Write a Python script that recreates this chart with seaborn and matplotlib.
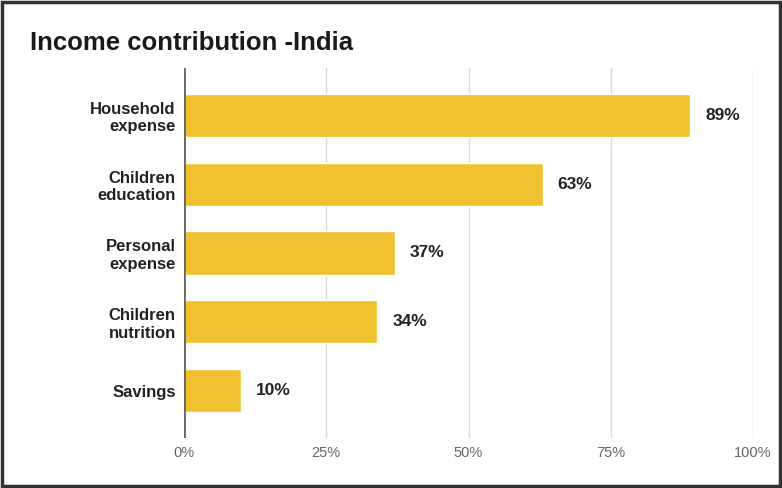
import pandas as pd
import seaborn as sns
import matplotlib.pyplot as plt
from matplotlib.ticker import PercentFormatter
from matplotlib.patches import Rectangle

categories = ["Household\nexpense", "Children\neducation", "Personal\nexpense",
              "Children\nnutrition", "Savings"]
values = [89, 63, 37, 34, 10]
value_labels = ["89%", "63%", "37%", "34%", "10%"]
x_ticks = [0, 25, 50, 75, 100]

df = pd.DataFrame({"category": categories, "share": values})

sns.set_theme(style="white")
plt.rcParams['font.family'] = ['Liberation Sans', 'DejaVu Sans']

fig = plt.figure(figsize=(7.82, 4.88), dpi=100)
ax = fig.add_axes([0.2353, 0.1025, 0.7277, 0.7582])

sns.barplot(data=df, x="share", y="category", color="#EFC12F", saturation=1,
            width=0.63, ax=ax, zorder=3)

ax.set_xlim(0, 100)
ax.set_ylim(4.69, -0.69)
ax.set_xticks(x_ticks)
ax.xaxis.set_major_formatter(PercentFormatter(decimals=0))
ax.grid(axis="x", color="#d9d9d9", linewidth=1, zorder=0)
ax.axvline(0, color="#666666", linewidth=2, zorder=4)

for s in ax.spines.values():
    s.set_visible(False)
ax.tick_params(axis="both", length=0)
ax.tick_params(axis="x", labelsize=10.5, labelcolor="#666666", pad=6)
ax.tick_params(axis="y", pad=6)
for lbl in ax.get_yticklabels():
    lbl.set_fontweight("bold")
    lbl.set_fontsize(12)
    lbl.set_color("#222222")
    lbl.set_horizontalalignment("right")
    lbl.set_multialignment("right")

ax.bar_label(ax.containers[0], labels=value_labels, padding=11,
             fontsize=12.5, fontweight="bold", color="#222222")
ax.set_xlabel("")
ax.set_ylabel("")

fig.text(0.038, 0.912, "Income contribution -India", fontsize=18.5,
         fontweight="bold", color="#1a1a1a", va="center")

fig.patches.append(Rectangle((0.003, 0.005), 0.994, 0.99, transform=fig.transFigure,
                             fill=False, edgecolor="#333333", linewidth=2.5))

fig.savefig("out.png", dpi=100)
